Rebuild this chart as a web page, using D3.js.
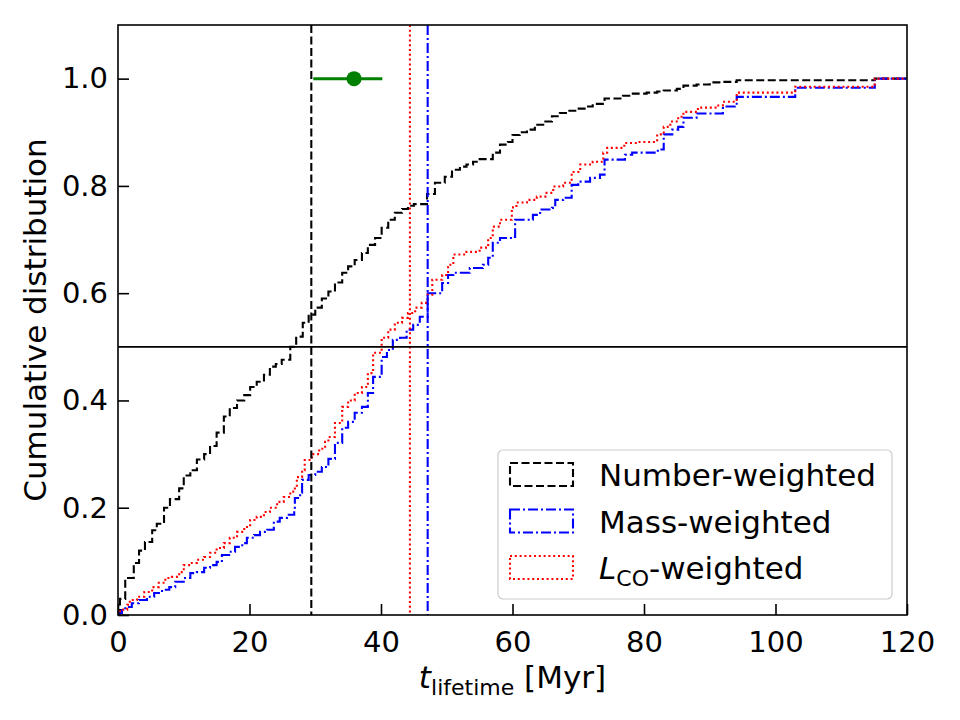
<!DOCTYPE html>
<html>
<head>
<meta charset="utf-8">
<script src="https://cdn.jsdelivr.net/npm/d3@7"></script>
<style>
  body { margin: 0; background: #fff; }
  text { font-family: "DejaVu Sans", sans-serif; }
</style>
</head>
<body>
<div id="container"></div>
<script>
/* CONSTANTS AND GLOBALS */
const width = 960,
  height = 720,
  margin = { top: 25, bottom: 105, left: 118, right: 53 };

// cumulative step curves, [t in Myr, fraction from t onward]
const numberWeighted = [[0,0],[0.3,0.03],[1.1,0.069],[2.4,0.097],[3.2,0.12],[4.1,0.136],[5.2,0.158],[5.9,0.17],[7.0,0.20],[7.9,0.216],[9.3,0.236],[10,0.26],[11,0.27],[12,0.29],[13.1,0.30],[14,0.315],[15,0.34],[16.1,0.37],[17,0.386],[18.1,0.40],[19.2,0.41],[20.1,0.425],[21.1,0.435],[22.2,0.448],[23.1,0.463],[24,0.468],[24.9,0.476],[26.2,0.50],[27.1,0.519],[28.1,0.545],[29,0.56],[30,0.573],[31,0.59],[32,0.603],[33,0.62],[34.1,0.638],[35,0.65],[36,0.662],[37.1,0.675],[38,0.69],[39.1,0.703],[40.1,0.722],[41.1,0.737],[42.1,0.75],[43.2,0.757],[44.1,0.763],[45,0.766],[47,0.785],[48.2,0.806],[49.7,0.817],[50.8,0.83],[52,0.836],[53,0.84],[54,0.845],[55,0.85],[57,0.862],[58.1,0.877],[59.3,0.882],[60,0.895],[61.1,0.90],[62.2,0.905],[63.4,0.914],[65,0.92],[66,0.93],[67.2,0.936],[68.4,0.94],[69.8,0.944],[71.3,0.948],[72.2,0.953],[74,0.963],[76.8,0.968],[78.3,0.972],[80.4,0.974],[82,0.976],[83,0.978],[85,0.981],[86,0.987],[88,0.989],[90,0.993],[92,0.994],[94.1,0.997],[115.1,1.0],[120,1.0]];

const massWeighted = [[0,0],[0.3,0.004],[0.6,0.009],[1.1,0.015],[2.1,0.022],[3.2,0.028],[4.4,0.034],[5.5,0.041],[6.7,0.047],[7.8,0.052],[8.7,0.062],[10,0.069],[11,0.078],[12,0.08],[13.1,0.088],[14,0.093],[15,0.099],[15.8,0.112],[16.9,0.118],[17.8,0.127],[18.9,0.134],[19.6,0.144],[20.7,0.149],[21.6,0.155],[22.7,0.159],[23.7,0.174],[24.6,0.181],[25.7,0.187],[26.8,0.196],[26.9,0.218],[27.7,0.228],[28,0.252],[29,0.261],[30,0.267],[31,0.276],[32,0.291],[33,0.321],[34.1,0.349],[35,0.36],[36,0.377],[37.1,0.388],[38,0.414],[38.8,0.444],[40.1,0.481],[40.9,0.494],[41.8,0.513],[42.9,0.517],[43.9,0.532],[44.9,0.541],[45.9,0.556],[47.1,0.60],[49.3,0.619],[50.2,0.634],[51,0.638],[53.5,0.647],[55.5,0.653],[56.3,0.666],[57,0.694],[58.1,0.703],[60.1,0.705],[60.4,0.737],[63.1,0.746],[64.2,0.756],[66,0.759],[66.5,0.774],[67.7,0.778],[69,0.802],[70,0.808],[71.8,0.815],[73.3,0.821],[74,0.849],[77.1,0.858],[78.2,0.862],[82.1,0.868],[83,0.896],[84.3,0.905],[85.2,0.91],[86,0.927],[88,0.935],[92,0.948],[93.8,0.951],[94.1,0.966],[103,0.983],[115.1,1.0],[120,1.0]];

const lcoWeighted = [[0,0],[0.3,0.01],[1.4,0.019],[1.8,0.028],[2.9,0.034],[4,0.043],[5.2,0.052],[6.2,0.06],[7.2,0.069],[8.2,0.071],[9.3,0.08],[10,0.093],[11,0.097],[12,0.103],[13.1,0.108],[14,0.116],[15,0.125],[16.1,0.134],[17,0.144],[18.1,0.155],[19.2,0.164],[20.1,0.177],[21.1,0.183],[22.2,0.192],[23.1,0.2],[24.2,0.211],[25.2,0.22],[26.2,0.23],[26.9,0.239],[27.2,0.257],[28,0.27],[28.4,0.289],[29.5,0.30],[30.6,0.31],[31.5,0.323],[32,0.332],[33,0.358],[34.1,0.388],[35,0.40],[36,0.414],[37.1,0.425],[38,0.451],[38.8,0.489],[40.1,0.517],[41.1,0.532],[42.1,0.545],[43.2,0.554],[44.1,0.563],[45.2,0.573],[46.2,0.582],[47.1,0.597],[47.8,0.625],[49.3,0.634],[50.2,0.653],[51,0.672],[53,0.677],[55,0.685],[56.3,0.703],[57,0.724],[58.1,0.737],[59.9,0.76],[60.6,0.769],[62.2,0.774],[63.7,0.78],[65,0.787],[66.2,0.799],[67.7,0.806],[69,0.826],[70.3,0.84],[72.2,0.845],[73.8,0.862],[74.4,0.871],[77,0.88],[79,0.882],[82,0.896],[83,0.91],[84,0.92],[85.2,0.929],[86,0.938],[88.2,0.946],[91.1,0.95],[92,0.957],[94.1,0.974],[103,0.985],[115.1,1.0],[120,1.0]];

// median markers (vertical lines) and the observed estimate with error bar
const medianNumber = 29.4, medianMass = 47.1, medianLco = 44.4;
const obsValue = 35.9, obsLow = 29.7, obsHigh = 40.2, obsY = 1.0;

const xTicks = [0, 20, 40, 60, 80, 100, 120];
const yTicks = [0, 0.2, 0.4, 0.6, 0.8, 1.0];

const series = [
  { name: "Number-weighted", data: numberWeighted, color: "black", dash: "8,3.5" },
  { name: "Mass-weighted", data: massWeighted, color: "blue", dash: "10,3,2,3" },
  { name: "CO", data: lcoWeighted, color: "red", dash: "2,2.8" }
];

/* SCALES */
const xScale = d3.scaleLinear()
  .domain([0, 120])
  .range([margin.left, width - margin.right]);

const yScale = d3.scaleLinear()
  .domain([0, 1.1])
  .range([height - margin.bottom, margin.top]);

const svg = d3.select("#container")
  .append("svg")
  .attr("width", width)
  .attr("height", height);

svg.append("clipPath").attr("id", "plotclip")
  .append("rect")
  .attr("x", margin.left).attr("y", margin.top)
  .attr("width", width - margin.left - margin.right)
  .attr("height", height - margin.top - margin.bottom);

const plot = svg.append("g").attr("clip-path", "url(#plotclip)");

// step curves
const lineGen = d3.line()
  .x(d => xScale(d[0]))
  .y(d => yScale(d[1]))
  .curve(d3.curveStepAfter);

plot.selectAll(".cdf")
  .data(series)
  .join("path")
  .attr("class", "cdf")
  .attr("fill", "none")
  .attr("stroke", d => d.color)
  .attr("stroke-width", 2.1)
  .attr("stroke-dasharray", d => d.dash)
  .attr("d", d => lineGen(d.data));

// vertical median lines
const medians = [
  { t: medianNumber, color: "black", dash: "8,3.5" },
  { t: medianLco, color: "red", dash: "2,2.8" },
  { t: medianMass, color: "blue", dash: "10,3,2,3" }
];
plot.selectAll(".median")
  .data(medians)
  .join("line")
  .attr("class", "median")
  .attr("x1", d => xScale(d.t)).attr("x2", d => xScale(d.t))
  .attr("y1", yScale(1.1)).attr("y2", yScale(0))
  .attr("stroke", d => d.color)
  .attr("stroke-width", 2.1)
  .attr("stroke-dasharray", d => d.dash);

// horizontal line at 0.5
plot.append("line")
  .attr("x1", xScale(0)).attr("x2", xScale(120))
  .attr("y1", yScale(0.5)).attr("y2", yScale(0.5))
  .attr("stroke", "black")
  .attr("stroke-width", 1.8);

// green error bar
plot.append("line")
  .attr("x1", xScale(obsLow)).attr("x2", xScale(obsHigh))
  .attr("y1", yScale(obsY)).attr("y2", yScale(obsY))
  .attr("stroke", "green")
  .attr("stroke-width", 3);
plot.append("circle")
  .attr("cx", xScale(obsValue))
  .attr("cy", yScale(obsY))
  .attr("r", 7.5)
  .attr("fill", "green");

/* AXES */
const xAxis = d3.axisBottom(xScale)
  .tickValues(xTicks)
  .tickSize(-11)
  .tickPadding(9)
  .tickFormat(d3.format("d"));
const yAxis = d3.axisLeft(yScale)
  .tickValues(yTicks)
  .tickSize(-11)
  .tickPadding(10)
  .tickFormat(d3.format(".1f"));

const xAxisGroup = svg.append("g")
  .attr("transform", `translate(0, ${height - margin.bottom})`)
  .call(xAxis);
const yAxisGroup = svg.append("g")
  .attr("transform", `translate(${margin.left}, 0)`)
  .call(yAxis);

[xAxisGroup, yAxisGroup].forEach(g => {
  g.select(".domain").remove();
  g.selectAll(".tick line").attr("stroke", "black").attr("stroke-width", 1.6);
  g.selectAll(".tick text")
    .attr("fill", "black")
    .style("font-size", "29px")
    .style("font-family", "DejaVu Sans");
});
xAxisGroup.selectAll(".tick text").attr("dy", "0.95em");

// frame
svg.append("rect")
  .attr("x", margin.left).attr("y", margin.top)
  .attr("width", width - margin.left - margin.right)
  .attr("height", height - margin.top - margin.bottom)
  .attr("fill", "none")
  .attr("stroke", "black")
  .attr("stroke-width", 1.6);

// axis labels
svg.append("text")
  .attr("transform", `translate(${46}, ${(margin.top + height - margin.bottom) / 2}) rotate(-90)`)
  .attr("text-anchor", "middle")
  .style("font-size", "31px")
  .text("Cumulative distribution");

const xLabel = svg.append("text")
  .attr("x", (margin.left + width - margin.right) / 2)
  .attr("y", 688)
  .attr("text-anchor", "middle")
  .style("font-size", "31px");
xLabel.append("tspan").style("font-style", "italic").text("t");
xLabel.append("tspan").attr("dy", 7).style("font-size", "22px").text("lifetime");
xLabel.append("tspan").attr("dy", -7).text(" [Myr]");

/* LEGEND */
const legend = svg.append("g");
legend.append("rect")
  .attr("x", 498).attr("y", 450)
  .attr("width", 394).attr("height", 149)
  .attr("rx", 5)
  .attr("fill", "white")
  .attr("fill-opacity", 0.8)
  .attr("stroke", "#cccccc")
  .attr("stroke-width", 1.2);

const rows = legend.selectAll(".row")
  .data(series)
  .join("g")
  .attr("class", "row")
  .attr("transform", (d, i) => `translate(510, ${463 + i * 46.5})`);

rows.append("rect")
  .attr("x", 0).attr("y", 0)
  .attr("width", 63).attr("height", 23)
  .attr("fill", "none")
  .attr("stroke", d => d.color)
  .attr("stroke-width", 2.1)
  .attr("stroke-dasharray", d => d.dash);

rows.each(function(d, i) {
  const t = d3.select(this).append("text")
    .attr("x", 89).attr("y", 23)
    .style("font-size", "31px");
  if (i === 2) {
    t.append("tspan").style("font-style", "italic").text("L");
    t.append("tspan").attr("dy", 7).style("font-size", "22px").text("CO");
    t.append("tspan").attr("dy", -7).text("-weighted");
  } else {
    t.text(d.name);
  }
});
</script>
</body>
</html>
